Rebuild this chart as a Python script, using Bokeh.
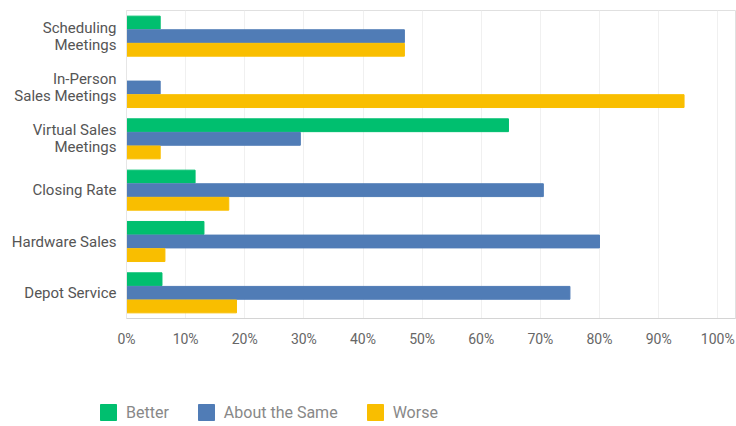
from bokeh.plotting import figure
from bokeh.layouts import column
from bokeh.models import ColumnDataSource, FactorRange, Legend, LegendItem, FixedTicker, Range1d
from bokeh.transform import dodge
from bokeh.embed import file_html
from bokeh.resources import INLINE

categories = ["Scheduling\nMeetings", "In-Person\nSales Meetings", "Virtual Sales\nMeetings",
              "Closing Rate", "Hardware Sales", "Depot Service"]
better = [5.7, 0.0, 64.6, 11.6, 13.1, 6.0]
same = [47.0, 5.7, 29.4, 70.5, 80.0, 75.0]
worse = [47.0, 94.3, 5.7, 17.3, 6.5, 18.6]
series_names = ["Better", "About the Same", "Worse"]
colors = ["#00BF6F", "#507CB6", "#F9BE00"]
x_ticks = [0, 10, 20, 30, 40, 50, 60, 70, 80, 90, 100]

src = ColumnDataSource(dict(cat=categories, better=better, same=same, worse=worse))

font = "Roboto"

p = figure(width=736, height=360, output_backend="svg", toolbar_location=None,
           y_range=FactorRange(factors=list(reversed(categories))),
           x_range=(0, 103),
           min_border_left=126, min_border_right=1, min_border_top=10, min_border_bottom=42)
p.frame_align = False

bh = 0.25
p.hbar(y=dodge("cat", 0.265, range=p.y_range), right="better", height=bh, source=src,
       color=colors[0])
p.hbar(y=dodge("cat", 0.0, range=p.y_range), right="same", height=bh, source=src,
       color=colors[1])
p.hbar(y=dodge("cat", -0.265, range=p.y_range), right="worse", height=bh, source=src,
       color=colors[2])

p.xaxis.ticker = FixedTicker(ticks=x_ticks)
p.xaxis.major_label_overrides = {t: f"{t}%" for t in x_ticks}
p.xaxis.axis_line_color = "#d4d4d4"
p.xaxis.major_tick_line_color = None
p.xaxis.minor_tick_line_color = None
p.xaxis.major_label_standoff = 6
p.xaxis.major_label_text_font = font
p.xaxis.major_label_text_font_size = "14px"
p.xaxis.major_label_text_color = "#666666"

p.yaxis.axis_line_color = "#e6e6e6"
p.yaxis.major_tick_line_color = None
p.yaxis.minor_tick_line_color = None
p.yaxis.major_label_standoff = 4
p.yaxis.major_label_text_font = font
p.yaxis.major_label_text_font_size = "15px"
p.yaxis.major_label_text_line_height = 0.95
p.yaxis.major_label_text_color = "#555555"

p.ygrid.grid_line_color = None
p.xgrid.grid_line_color = "#f0f0f0"
p.outline_line_color = "#e0e0e0"
p.outline_line_width = 1

# legend strip (placeholder glyphs sit outside the visible range; only the legend shows)
lg = figure(width=736, height=66, output_backend="svg", toolbar_location=None,
            x_range=Range1d(0, 1), y_range=Range1d(0, 1),
            min_border_left=0, min_border_right=0, min_border_top=0, min_border_bottom=0)
lg.frame_align = False
lg.axis.visible = False
lg.grid.grid_line_color = None
lg.outline_line_color = None
dummy = ColumnDataSource(dict(y=[-10], right=[-10]))
items = []
for name, c in zip(series_names, colors):
    r = lg.hbar(y="y", right="right", height=0.5, source=dummy, color=c)
    items.append(LegendItem(label=name, renderers=[r]))

legend = Legend(items=items, orientation="horizontal", location=(98, 4),
                glyph_width=20, glyph_height=20, label_standoff=8, spacing=27,
                padding=0, margin=0, border_line_color=None, background_fill_alpha=0,
                label_text_font=font, label_text_font_size="16px", label_text_color="#888888")
lg.add_layout(legend, "center")

layout = column(p, lg, spacing=0)
open("out.html", "w").write(file_html(layout, INLINE))
